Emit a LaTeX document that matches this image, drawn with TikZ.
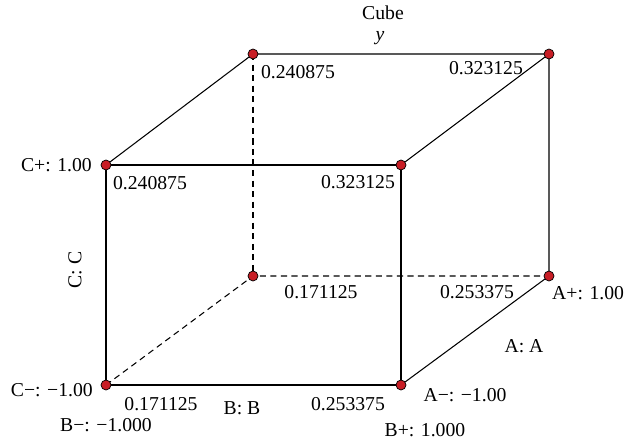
\documentclass[tikz,border=0pt]{standalone}
\usepackage{fontspec}
\setmainfont{Liberation Serif}
\usetikzlibrary{positioning}

\definecolor{rougepoint}{RGB}{200,30,38}

\tikzset{
    pt/.style={circle, draw=black, line width=0.4pt, fill=rougepoint, inner sep=0pt, minimum size=2mm},
    arete/.style={black, line width=0.6pt},
    cachee/.style={black, line width=0.6pt, dash pattern=on 3.5pt off 2.5pt},
    lbl/.style={font=\fontsize{11.2}{13}\selectfont, inner sep=0.5pt}
}

\begin{document}
\begin{tikzpicture}
    \useasboundingbox (0,0) rectangle (12.52,8.88);
    % --- Définition des sommets ---
    \coordinate (cm) at (2.12,1.18);
    \coordinate (am) at (8.02,1.18);
    \coordinate (cp) at (2.12,5.58);
    \coordinate (fr) at (8.02,5.58);
    \coordinate (bl) at (5.06,7.80);
    \coordinate (br) at (10.98,7.80);
    \coordinate (bb) at (5.06,3.36);
    \coordinate (ap) at (10.98,3.36);

    % --- Arêtes visibles ---
    \draw [arete] (cm) -- (am) -- (fr) -- (cp) -- (cm);
    \draw [arete] (cp) -- (bl) -- (br) -- (fr);
    \draw [arete] (br) -- (ap) -- (am);

    % --- Arêtes cachées ---
    \draw [cachee] (bl) -- (bb);
    \draw [cachee] (cm) -- (bb) -- (ap);

    % --- Sommets ---
    \foreach \s in {cm, am, cp, fr, bl, br, bb, ap}
        \node[pt] (p\s) at (\s) {};

    % --- Titre ---
    \node[lbl] (titre) at (7.66,8.62) {Cube};
    \node[lbl] (axey) at (7.60,8.12) {\textit{y}};

    % --- Face arrière ---
    \node[lbl] (vbl) at (5.96,7.44) {0.240875};
    \node[lbl] (vbr) at (9.72,7.52) {0.323125};
    \node[lbl] (vbb) at (6.42,3.04) {0.171125};
    \node[lbl] (vap) at (9.54,3.04) {0.253375};
    \node[lbl, anchor=west] (lap) at (11.02,3.02) {A+: 1.00};

    % --- Face avant ---
    \node[lbl, anchor=east] (lcp) at (1.86,5.58) {C+: 1.00};
    \node[lbl] (vcp) at (3.00,5.22) {0.240875};
    \node[lbl] (vfr) at (7.16,5.24) {0.323125};
    \node[lbl, rotate=90] (axec) at (1.50,3.48) {C: C};
    \node[lbl, anchor=east] (lcm) at (1.88,1.08) {C−: −1.00};
    \node[lbl] (vcm) at (3.22,0.80) {0.171125};
    \node[lbl] (lbm) at (2.12,0.38) {B−: −1.000};
    \node[lbl] (axeb) at (4.84,0.72) {B: B};
    \node[lbl] (vam) at (6.96,0.80) {0.253375};
    \node[lbl] (lam) at (9.30,0.98) {A−: −1.00};
    \node[lbl] (lbp) at (8.50,0.28) {B+: 1.000};
    \node[lbl] (axea) at (10.48,1.96) {A: A};
\end{tikzpicture}
\end{document}
